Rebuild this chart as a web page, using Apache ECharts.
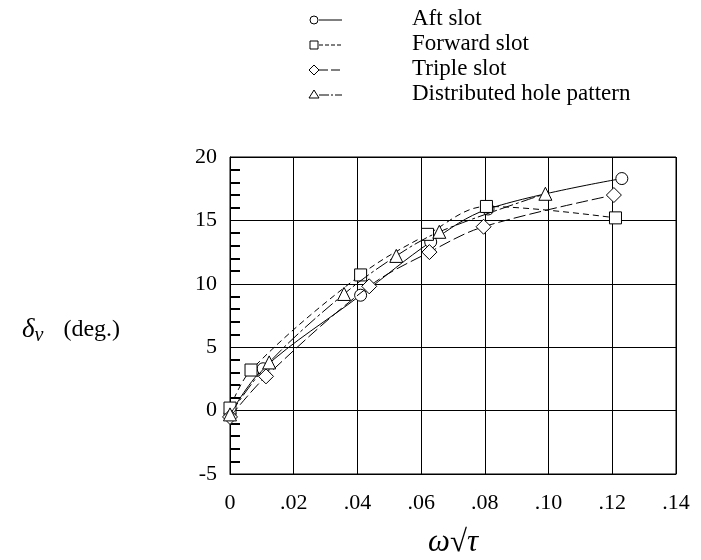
<!DOCTYPE html>
<html>
<head>
<meta charset="utf-8">
<script src="https://cdn.jsdelivr.net/npm/echarts@6/dist/echarts.min.js"></script>
<style>
  html, body { margin: 0; padding: 0; background: #fff; }
  #chart { width: 701px; height: 560px; }
</style>
</head>
<body>
<div id="chart"></div>
<script>
// values: [omega*sqrt(tau), delta_v (deg.)]
var seriesNames = ['Aft slot', 'Forward slot', 'Triple slot', 'Distributed hole pattern'];
var aftSlot = [[0, -0.3], [0.0104, 3.3], [0.041, 9.1], [0.063, 13.3], [0.081, 15.9], [0.123, 18.3]];
var forwardSlot = [[0, 0.2], [0.0066, 3.2], [0.041, 10.7], [0.062, 13.9], [0.0805, 16.1], [0.121, 15.2]];
var tripleSlot = [[0, -0.5], [0.0113, 2.7], [0.0437, 9.8], [0.0626, 12.5], [0.0796, 14.5], [0.1205, 17.0]];
var distributedHoles = [[0, -0.3], [0.0123, 3.8], [0.0358, 9.2], [0.0522, 12.2], [0.0657, 14.1], [0.099, 17.1]];
var xTicks = ['0', '.02', '.04', '.06', '.08', '.10', '.12', '.14'];
var yTicks = ['-5', '0', '5', '10', '15', '20'];

var serif = 'Liberation Serif';
var symbols = ['circle', 'rect', 'diamond', 'triangle'];
var symbolSizes = [12, 12, 15, 13];
var dashes = [null, [6, 4], [12, 4], [14, 3, 3, 3]];
var allData = [aftSlot, forwardSlot, tripleSlot, distributedHoles];

var myChart = echarts.init(document.getElementById('chart'));

var series = allData.map(function (d, i) {
    return {
        name: seriesNames[i],
        type: 'line',
        data: d,
        smooth: 0.35,
        symbol: symbols[i],
        symbolSize: symbolSizes[i],
        showAllSymbol: true,
        lineStyle: { color: '#000', width: 1, type: dashes[i] || 'solid' },
        itemStyle: { color: '#fff', borderColor: '#000', borderWidth: 1 },
        z: 3 + i,
        animation: false
    };
});

// legend drawn by hand: marker at the left end of the line sample, text far right
var graphics = [];
var legendY = [20, 45, 70, 95];
var legendDash = [null, [4, 2], [9, 3], [10, 2, 2, 2]];
seriesNames.forEach(function (name, i) {
    var y = legendY[i];
    graphics.push({
        type: 'line',
        shape: { x1: 319, y1: y, x2: 342, y2: y },
        style: { stroke: '#000', lineWidth: 1, lineDash: legendDash[i] }
    });
    var mk;
    if (i === 0) {
        mk = { type: 'circle', shape: { cx: 314, cy: y, r: 4 } };
    } else if (i === 1) {
        mk = { type: 'rect', shape: { x: 310, y: y - 4, width: 8, height: 8 } };
    } else if (i === 2) {
        mk = { type: 'polygon', shape: { points: [[314, y - 5], [319, y], [314, y + 5], [309, y]] } };
    } else {
        mk = { type: 'polygon', shape: { points: [[314, y - 5], [319, y + 3], [309, y + 3]] } };
    }
    mk.style = { fill: '#fff', stroke: '#000', lineWidth: 1 };
    graphics.push(mk);
    graphics.push({
        type: 'text',
        left: 412,
        top: y - 13,
        style: { text: name, font: '23px "' + serif + '"', fill: '#000' }
    });
});

graphics.push({
    type: 'text',
    left: 22,
    top: 316,
    style: {
        text: '{d|δ}{v|v}{u|(deg.)}',
        rich: {
            d: { font: 'italic 27px "' + serif + '"', fill: '#000' },
            v: { font: 'italic 20px "' + serif + '"', fill: '#000', padding: [12, 0, 0, 0] },
            u: { font: '24px "' + serif + '"', fill: '#000', padding: [0, 0, 0, 20] }
        }
    }
});
graphics.push({
    type: 'text',
    left: 428,
    top: 527,
    style: { text: 'ω√τ', font: 'italic 31px "' + serif + '"', fill: '#000' }
});

var option = {
    backgroundColor: '#fff',
    animation: false,
    grid: { left: 230, right: 25, top: 157, bottom: 86, show: true, borderColor: '#000', borderWidth: 1 },
    xAxis: {
        type: 'value',
        min: 0,
        max: 0.14,
        interval: 0.02,
        axisLine: { show: true, onZero: false, lineStyle: { color: '#000' } },
        axisTick: { show: false },
        axisLabel: {
            margin: 18,
            color: '#000',
            fontFamily: serif,
            fontSize: 22,
            formatter: function (v) { return xTicks[Math.round(v / 0.02)]; }
        },
        splitLine: { show: true, lineStyle: { color: '#000', width: 1 } }
    },
    yAxis: {
        type: 'value',
        min: -5,
        max: 20,
        interval: 5,
        axisLine: { show: true, onZero: false, lineStyle: { color: '#000' } },
        axisTick: { show: false, inside: true },
        minorTick: { show: true, splitNumber: 5, length: 10, lineStyle: { color: '#000', width: 2 } },
        axisLabel: {
            margin: 13,
            color: '#000',
            fontFamily: serif,
            fontSize: 22,
            formatter: function (v) { return yTicks[Math.round((v + 5) / 5)]; }
        },
        splitLine: { show: true, lineStyle: { color: '#000', width: 1 } }
    },
    graphic: graphics,
    series: series
};

myChart.setOption(option);
</script>
</body>
</html>
